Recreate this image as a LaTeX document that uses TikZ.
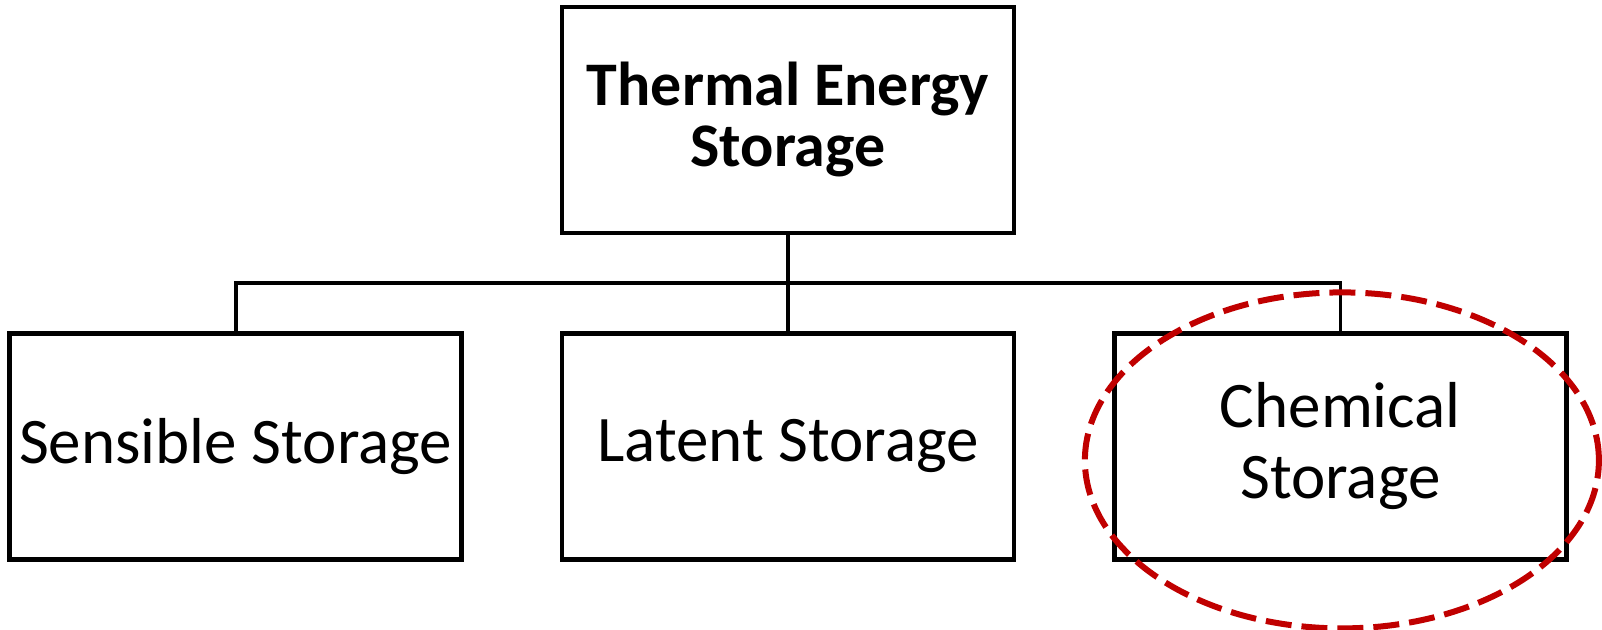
\documentclass[tikz,border=0pt]{standalone}
\usepackage{fontspec}
\setmainfont{Carlito}
\usepackage{xcolor}
\usepackage{tikz}
\usetikzlibrary{positioning,shapes.geometric,calc}
\definecolor{darkred}{RGB}{192,0,0}
\newcommand{\toptext}[1]{\fontsize{31pt}{30.5pt}\selectfont\bfseries #1}

\begin{document}
\begin{tikzpicture}[
      node distance=48pt and 48pt,
      box/.style={draw=black, line width=2.2pt, minimum width=226pt, minimum height=113pt,
                  align=center, inner sep=4pt, font=\fontsize{32.5pt}{35.5pt}\selectfont},
      link/.style={draw=black, line width=1.9pt},
      mark ring/.style={draw=darkred, line width=3pt, dash pattern=on 13pt off 5pt}
    ]
      \useasboundingbox (0,0) rectangle (801pt,-315pt);
      \node[box, font=\toptext{}] (tes) at (394pt,-60pt) {Thermal Energy\\Storage};
      \node[box, below=of tes] (latent) {Latent Storage};
      \node[box, left=of latent] (sensible) {Sensible Storage};
      \node[box, right=of latent] (chemical) {Chemical\\Storage};
      \coordinate (bus) at ($(tes.south)!0.5!(latent.north)$);
      \draw[link] (tes.south) -- (latent.north);
      \draw[link] (sensible.north) |- (bus) -| (chemical.north);
      \node[mark ring, ellipse, minimum width=257pt, minimum height=168pt, inner sep=0pt]
        (ring) at ($(chemical.center)+(0.75pt,-7pt)$) {};
    \end{tikzpicture}
\end{document}
